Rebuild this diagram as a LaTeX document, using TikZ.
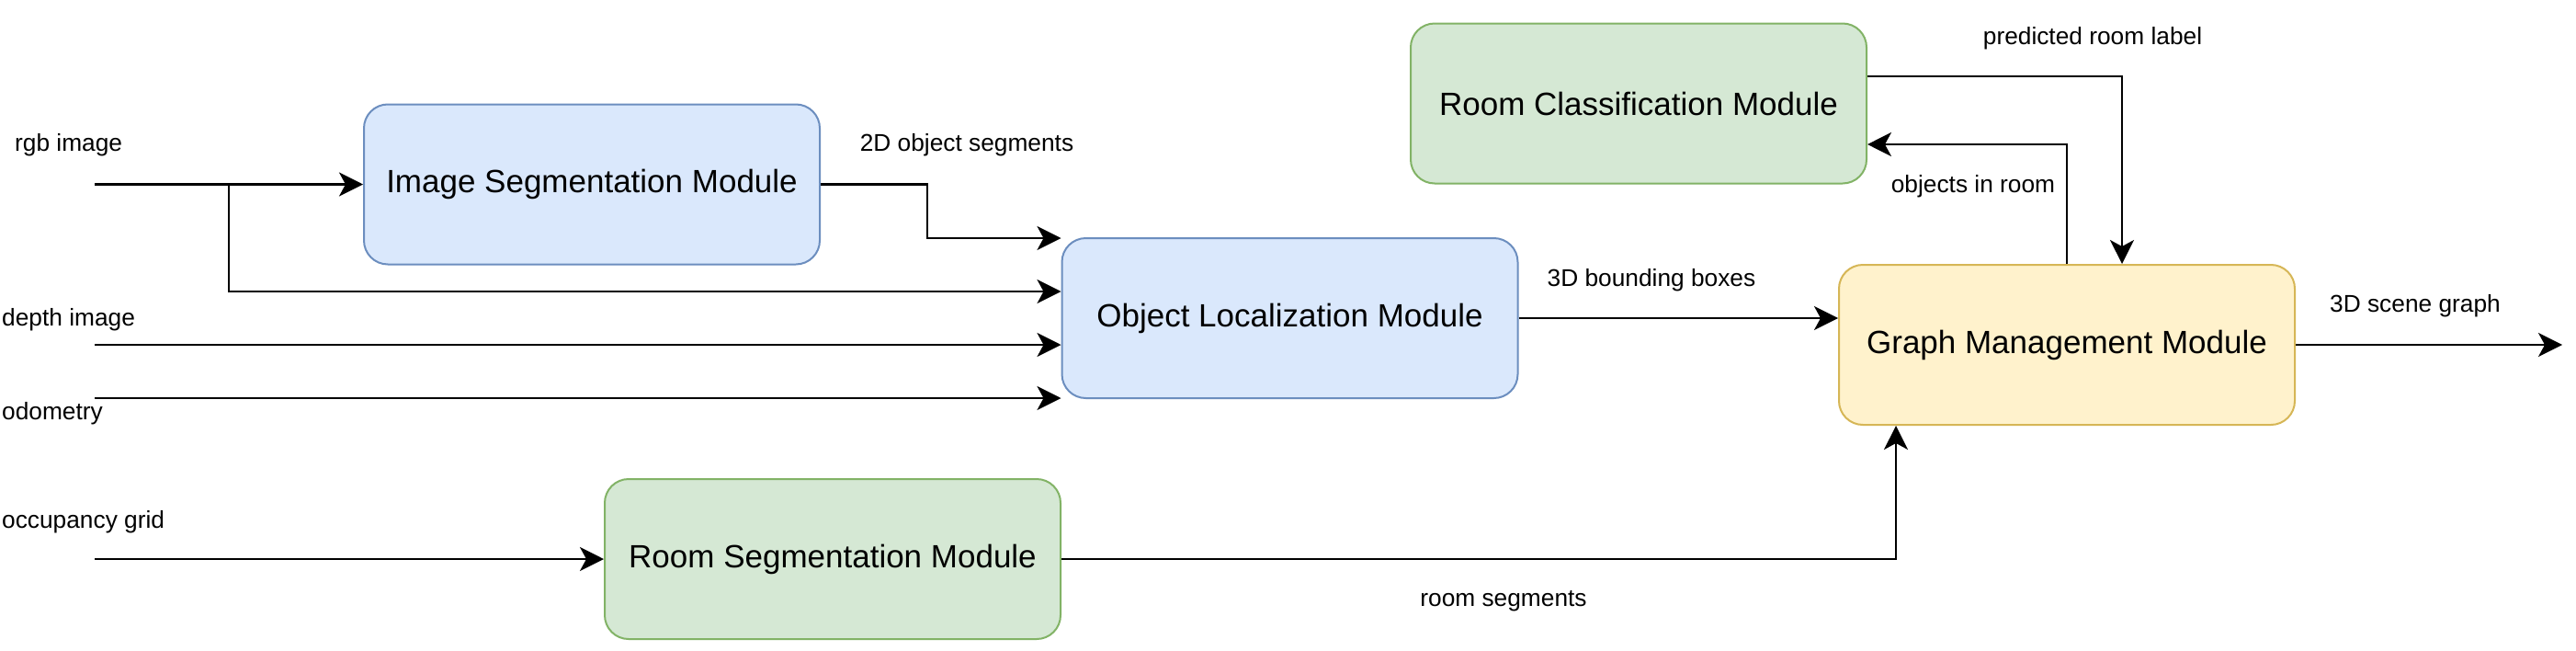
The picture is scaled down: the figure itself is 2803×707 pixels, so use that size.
\documentclass[tikz,border=0pt]{standalone}
\usepackage{fontspec}
\setmainfont{Liberation Sans}
\usetikzlibrary{arrows.meta,calc}
\definecolor{bfill}{HTML}{DAE8FC}\definecolor{bdraw}{HTML}{6C8EBF}
\definecolor{gfill}{HTML}{D5E8D4}\definecolor{gdraw}{HTML}{82B366}
\definecolor{yfill}{HTML}{FFF2CC}\definecolor{ydraw}{HTML}{D6B656}
\begin{document}
\begin{tikzpicture}[x=1pt,y=-1pt,
  module/.style={draw, line width=2pt, rounded corners=26pt, minimum width=496pt, minimum height=174pt,
    inner sep=0pt, font=\fontsize{35}{42}\selectfont},
  bluebox/.style={module, fill=bfill, draw=bdraw},
  greenbox/.style={module, fill=gfill, draw=gdraw},
  yellowbox/.style={module, fill=yfill, draw=ydraw},
  lbl/.style={font=\fontsize{26.3}{31}\selectfont, inner sep=0pt},
  arr/.style={-{Stealth[length=26pt,width=26pt,inset=7pt]}, line width=2.3pt},
  thinarr/.style={arr, line width=1.9pt}]
\useasboundingbox (0,0) rectangle (2803,707);
\fill[white] (0,0) rectangle (2803,707);
% modules
\node[bluebox] (ism) at (644,200.5) {Image Segmentation Module};
\node[bluebox] (olm) at (1403.5,346) {Object Localization Module};
\node[greenbox] (rcm) at (1783,112.5) {Room Classification Module};
\node[yellowbox] (gmm) at (2249,375) {Graph Management Module};
\node[greenbox] (rsm) at (906,608) {Room Segmentation Module};
% coordinates
\coordinate (rgbin) at (103,200.5);
\coordinate (br) at (249,200.5);
\coordinate (depthin) at (103,375);
\coordinate (odomin) at (103,433);
\coordinate (occin) at (103,608);
\coordinate (y259) at (0,259);
\coordinate (y317) at (0,317);
\coordinate (y375) at (0,375);
\coordinate (y433) at (0,433);
\coordinate (y346) at (0,346);
\coordinate (segx) at (1009,0);
\coordinate (px) at (2309,0);
\coordinate (ox) at (2249,0);
\coordinate (oy) at (0,157);
\coordinate (py) at (0,83);
\coordinate (rsx) at (2063,0);
\coordinate (out) at (2788,375);
% connectors
\draw[arr] (rgbin) -- (ism.west);
\draw[arr] (br) |- (olm.west |- y317);
\draw[arr] (depthin) -- (olm.west |- y375);
\draw[arr] (odomin) -- (olm.west |- y433);
\draw[arr] (ism.east) -| (segx |- y259) -- (olm.west |- y259);
\draw[arr] (olm.east |- y346) -- (gmm.west |- y346);
\draw[arr] (gmm.east) -- (out);
\draw[thinarr] (rcm.east |- py) -| (gmm.north -| px);
\draw[thinarr] (gmm.north -| ox) |- (rcm.east |- oy);
\draw[arr] (occin) -- (rsm.west);
\draw[thinarr] (rsm.east) -| (gmm.south -| rsx);
% labels
\node[lbl, anchor=west] (l1) at (16,158) {rgb image};
\node[lbl, anchor=west] (l2) at (2,348) {depth image};
\node[lbl, anchor=west] (l3) at (2,450) {odometry};
\node[lbl, anchor=west] (l4) at (2,568) {occupancy grid};
\node[lbl] (l5) at (1052,158) {2D object segments};
\node[lbl] (l6) at (1797,305) {3D bounding boxes};
\node[lbl] (l7) at (2277,42) {predicted room label};
\node[lbl] (l8) at (2147,203) {objects in room};
\node[lbl] (l9) at (2628,333) {3D scene graph};
\node[lbl] (l10) at (1636,654) {room segments};
\end{tikzpicture}
\end{document}
